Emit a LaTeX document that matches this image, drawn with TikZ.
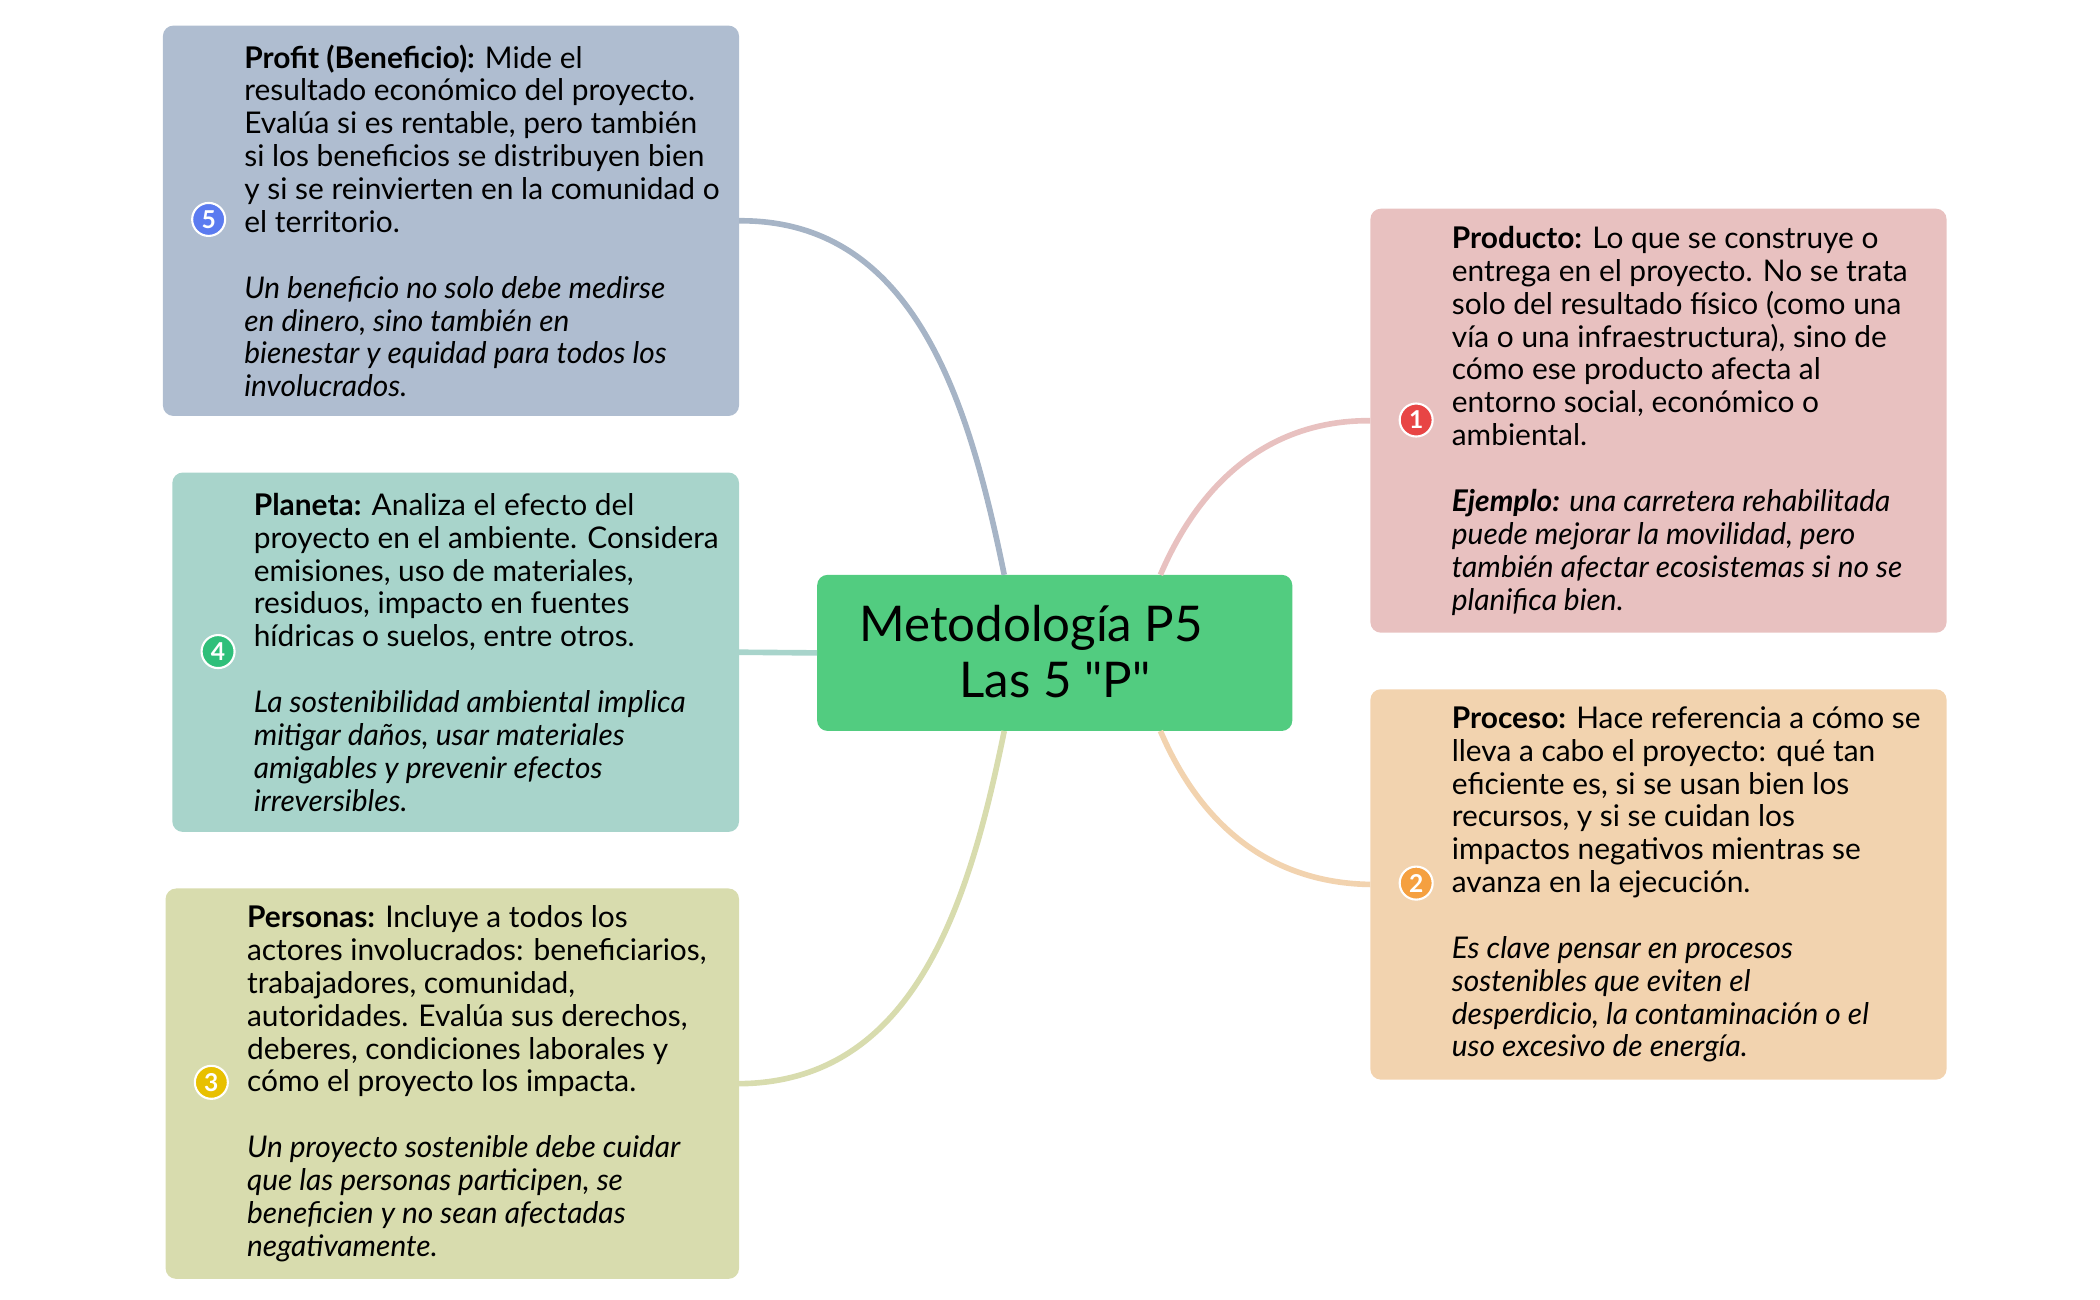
\documentclass[tikz,border=0pt]{standalone}
\usepackage{fontspec}
\setmainfont{Lato}
\newfontfamily\titlefont{Lato}
\usetikzlibrary{positioning}
\definecolor{cprofit}{HTML}{AFBDD0}
\definecolor{cplaneta}{HTML}{A8D4CB}
\definecolor{cpersonas}{HTML}{D8DCAE}
\definecolor{cproducto}{HTML}{E8C1C0}
\definecolor{cproceso}{HTML}{F2D3AF}
\definecolor{ccenter}{HTML}{52CC80}
\definecolor{iblue}{HTML}{5B7BF0}
\definecolor{igreen}{HTML}{2FBF7A}
\definecolor{iyellow}{HTML}{E8C000}
\definecolor{ired}{HTML}{E84545}
\definecolor{iorange}{HTML}{F5A040}
\tikzset{
  box/.style={rounded corners=3pt,anchor=north west,inner sep=0pt,outer sep=0pt},
  txt/.style={anchor=west,align=left,inner sep=0pt,
    font=\fontsize{8.5}{9.35}\selectfont},
  icon/.style={circle,draw=white,line width=0.6pt,inner sep=0pt,minimum size=0.33cm,
    text=white,font=\fontsize{7}{7}\selectfont\bfseries},
  link/.style={line width=1.6pt}
}
\begin{document}
\begin{tikzpicture}[x=0.013462cm,y=-0.013462cm]
\useasboundingbox (0,0) rectangle (1560,965);
% central topic
\node[box,fill=ccenter,minimum width=353*0.013462cm,minimum height=116*0.013462cm] (center) at (607,427) {};
\node[align=left,font=\titlefont\fontsize{14}{16}\selectfont] (title) at (766,484) {Metodología P5\\\hspace*{1cm}Las 5 "P"};
% boxes
\node[box,fill=cprofit,minimum width=428*0.013462cm,minimum height=290*0.013462cm] (profit) at (121,19) {};
\node[box,fill=cplaneta,minimum width=421*0.013462cm,minimum height=267*0.013462cm] (planeta) at (128,351) {};
\node[box,fill=cpersonas,minimum width=426*0.013462cm,minimum height=290*0.013462cm] (personas) at (123,660) {};
\node[box,fill=cproducto,minimum width=428*0.013462cm,minimum height=315*0.013462cm] (producto) at (1018,155) {};
\node[box,fill=cproceso,minimum width=428*0.013462cm,minimum height=290*0.013462cm] (proceso) at (1018,512) {};
% texts
\node[txt] (tprofit) at ([xshift=60*0.013462cm]profit.west) {\textbf{Profit (Beneficio):} Mide el\\resultado económico del proyecto.\\Evalúa si es rentable, pero también\\si los beneficios se distribuyen bien\\y si se reinvierten en la comunidad o\\el territorio.\\[9.35pt]
\textit{Un beneficio no solo debe medirse}\\\textit{en dinero, sino también en}\\\textit{bienestar y equidad para todos los}\\\textit{involucrados.}};
\node[txt] (tplaneta) at ([xshift=60*0.013462cm]planeta.west) {\textbf{Planeta:} Analiza el efecto del\\proyecto en el ambiente. Considera\\emisiones, uso de materiales,\\residuos, impacto en fuentes\\hídricas o suelos, entre otros.\\[9.35pt]
\textit{La sostenibilidad ambiental implica}\\\textit{mitigar daños, usar materiales}\\\textit{amigables y prevenir efectos}\\\textit{irreversibles.}};
\node[txt] (tpersonas) at ([xshift=60*0.013462cm]personas.west) {\textbf{Personas:} Incluye a todos los\\actores involucrados: beneficiarios,\\trabajadores, comunidad,\\autoridades. Evalúa sus derechos,\\deberes, condiciones laborales y\\cómo el proyecto los impacta.\\[9.35pt]
\textit{Un proyecto sostenible debe cuidar}\\\textit{que las personas participen, se}\\\textit{beneficien y no sean afectadas}\\\textit{negativamente.}};
\node[txt] (tproducto) at ([xshift=60*0.013462cm]producto.west) {\textbf{Producto:} Lo que se construye o\\entrega en el proyecto. No se trata\\solo del resultado físico (como una\\vía o una infraestructura), sino de\\cómo ese producto afecta al\\entorno social, económico o\\ambiental.\\[9.35pt]
\textit{\textbf{Ejemplo:} una carretera rehabilitada}\\\textit{puede mejorar la movilidad, pero}\\\textit{también afectar ecosistemas si no se}\\\textit{planifica bien.}};
\node[txt] (tproceso) at ([xshift=60*0.013462cm]proceso.west) {\textbf{Proceso:} Hace referencia a cómo se\\lleva a cabo el proyecto: qué tan\\eficiente es, si se usan bien los\\recursos, y si se cuidan los\\impactos negativos mientras se\\avanza en la ejecución.\\[9.35pt]
\textit{Es clave pensar en procesos}\\\textit{sostenibles que eviten el}\\\textit{desperdicio, la contaminación o el}\\\textit{uso excesivo de energía.}};
% icons
\node[icon,fill=iblue] (n5) at (155,163) {5};
\node[icon,fill=igreen] (n4) at (162,484) {4};
\node[icon,fill=iyellow] (n3) at (157,804) {3};
\node[icon,fill=ired] (n1) at (1052,312) {1};
\node[icon,fill=iorange] (n2) at (1052,656) {2};
% links
\coordinate (ctop) at (746,427);
\coordinate (cbot) at (746,543);
\coordinate (crtop) at (862,427);
\coordinate (crbot) at (862,543);
\draw[link,cprofit!95!black] (ctop) .. controls (720,300) and (680,163) .. (profit.east);
\draw[link,cplaneta] (center.west) -- (planeta.east);
\draw[link,cpersonas] (cbot) .. controls (720,670) and (680,804) .. (personas.east);
\draw[link,cproducto] (crtop) .. controls (895,350) and (950,312) .. (producto.west);
\draw[link,cproceso] (crbot) .. controls (895,620) and (950,656) .. (proceso.west);
\end{tikzpicture}
\end{document}
